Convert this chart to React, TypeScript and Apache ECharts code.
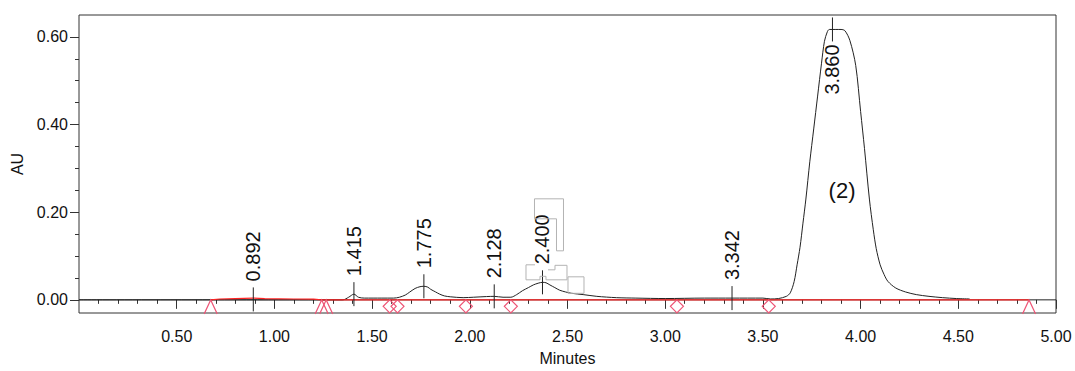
import React, { useEffect, useRef } from 'react';
import * as echarts from 'echarts';

// ---- data ----
const traceTimes = [
  0, 1.35, 1.38, 1.407, 1.43, 1.46, 1.55, 1.61, 1.64, 1.67, 1.69, 1.72, 1.745, 1.765, 1.785, 1.8, 1.825, 1.846, 1.87, 1.9,
  1.966, 2.02, 2.085, 2.125, 2.17, 2.21, 2.24, 2.27, 2.3, 2.325, 2.35, 2.372, 2.39, 2.41, 2.435, 2.46, 2.49, 2.52, 2.58,
  2.65, 2.75, 2.85, 3.0, 3.2, 3.342, 3.5, 3.54, 3.58, 3.62, 3.64, 3.66, 3.675, 3.69, 3.705, 3.72, 3.74, 3.76, 3.78, 3.8,
  3.815, 3.83, 3.84, 3.9, 3.92, 3.945, 3.975, 4.0, 4.02, 4.045, 4.065, 4.08, 4.1, 4.12, 4.14, 4.18, 4.23, 4.285, 4.35,
  4.42, 4.49, 4.558,
];
const traceAU = [
  0, 0, 0.006, 0.013, 0.006, 0.004, 0.004, 0.004, 0.006, 0.011, 0.017, 0.026, 0.03, 0.031, 0.029, 0.024, 0.018, 0.013, 0.009, 0.007,
  0.005, 0.006, 0.0075, 0.008, 0.006, 0.006, 0.012, 0.021, 0.028, 0.034, 0.038, 0.04, 0.039, 0.034, 0.028, 0.022, 0.018, 0.015, 0.012,
  0.008, 0.005, 0.004, 0.003, 0.004, 0.004, 0.004, 0.002, 0.003, 0.008, 0.016, 0.042, 0.08, 0.12, 0.175, 0.23, 0.315, 0.39, 0.465, 0.54,
  0.59, 0.612, 0.617, 0.617, 0.614, 0.592, 0.535, 0.43, 0.345, 0.23, 0.16, 0.117, 0.08, 0.058, 0.042, 0.027, 0.018, 0.012, 0.008,
  0.005, 0.003, 0.002,
];
const baselineTimes = [0.674, 0.72, 0.8, 0.89, 0.95, 1.1, 1.2, 1.242, 1.265, 4.862];
const baselineAU = [0, 0.002, 0.003, 0.004, 0.003, 0.002, 0.0015, 0, 0, 0];
const triangleTimes = [0.674, 1.242, 1.265, 4.862];
const diamondTimes = [1.59, 1.63, 1.98, 2.21, 3.06, 3.53];
const peakTimes = [0.892, 1.407, 1.765, 2.125, 2.372, 3.342, 3.856];
const peakAU = [0.001, 0.013, 0.031, 0.008, 0.04, 0.004, 0.617];
const peakLabels = ['0.892', '1.415', '1.775', '2.128', '2.400', '3.342', '3.860'];
const compoundName = '(2)';
const compoundPos = [3.905, 0.25];
const xTickValues = [0.5, 1.0, 1.5, 2.0, 2.5, 3.0, 3.5, 4.0, 4.5, 5.0];
const yTickValues = [0, 0.2, 0.4, 0.6];
const yMinorValues = [0.05, 0.1, 0.15, 0.25, 0.3, 0.35, 0.45, 0.5, 0.55];

const FONT = '"Liberation Sans", Arial, sans-serif';
const RED = '#ff2424';
const PINK = '#ee5576';
const GREY = '#b4b4b4';

const xMinorValues: number[] = [];
for (let i = 1; i < 50; i++) if (i % 5 !== 0) xMinorValues.push(i / 10);

export default function App() {
  const ref = useRef<HTMLDivElement>(null);
  useEffect(() => {
    if (!ref.current) return;
    const chart = echarts.init(ref.current, undefined, { renderer: 'svg' });
    const trace = traceTimes.map((t, i) => [t, traceAU[i]]);
    const baseline = baselineTimes.map((t, i) => [t, baselineAU[i]]);
    const peaks = peakTimes.map((t, i) => [t, peakAU[i], i]);

    const axisCommon = { type: 'value', min: 0, max: 5, position: 'bottom', offset: 3, axisLine: { show: false }, splitLine: { show: false } };
    const yCommon = { type: 'value', min: -0.03, max: 0.65, position: 'left', axisLine: { show: false }, splitLine: { show: false } };

    chart.setOption({
      animation: false,
      backgroundColor: '#fff',
      grid: { left: 79, right: 19, top: 15, bottom: 55, show: true, borderColor: '#333', borderWidth: 1, backgroundColor: 'transparent' },
      xAxis: [
        {
          ...axisCommon,
          name: 'Minutes', nameLocation: 'middle', nameGap: 34,
          nameTextStyle: { fontFamily: FONT, fontSize: 16, color: '#111' },
          axisTick: { show: true, length: 9, customValues: xTickValues, lineStyle: { color: '#333' } },
          axisLabel: { customValues: xTickValues, formatter: (v: number) => v.toFixed(2), fontFamily: FONT, fontSize: 16, color: '#111', margin: 12 },
        },
        {
          ...axisCommon,
          axisTick: { show: true, length: 4, customValues: xMinorValues, lineStyle: { color: '#333' } },
          axisLabel: { show: false },
        },
      ],
      yAxis: [
        {
          ...yCommon,
          name: 'AU', nameLocation: 'middle', nameGap: 53, nameRotate: 90,
          nameTextStyle: { fontFamily: FONT, fontSize: 16, color: '#111' },
          axisTick: { show: true, length: 9, customValues: yTickValues, lineStyle: { color: '#333' } },
          axisLabel: { customValues: yTickValues, formatter: (v: number) => v.toFixed(2), fontFamily: FONT, fontSize: 16, color: '#111', margin: 11 },
        },
        {
          ...yCommon,
          axisTick: { show: true, length: 4, customValues: yMinorValues, lineStyle: { color: '#333' } },
          axisLabel: { show: false },
        },
      ],
      series: [
        {
          type: 'line', data: [[0, 0], [5, 0]], showSymbol: false, silent: true,
          lineStyle: { color: '#222', width: 1 }, z: 1,
        },
        {
          type: 'line', data: trace, showSymbol: false, smooth: 0.3, silent: true,
          lineStyle: { color: '#222', width: 1 }, z: 2,
        },
        {
          type: 'line', data: baseline, showSymbol: false, silent: true,
          lineStyle: { color: RED, width: 1.2 }, z: 3,
        },
        {
          type: 'scatter', data: triangleTimes.map((t) => [t, 0]), symbol: 'path://M0 14 L6.5 0 L13 14',
          symbolSize: [13, 14], symbolOffset: [0, 7], silent: true,
          itemStyle: { color: 'rgba(0,0,0,0)', borderColor: PINK, borderWidth: 1.2, opacity: 1 }, z: 4,
        },
        {
          type: 'scatter', data: diamondTimes.map((t) => [t, 0]), symbol: 'path://M7 0 L14 7 L7 14 L0 7 Z',
          symbolSize: [13, 13], symbolOffset: [0, 6.5], silent: true,
          itemStyle: { color: 'rgba(0,0,0,0)', borderColor: PINK, borderWidth: 1.2, opacity: 1 }, z: 4,
        },
        {
          type: 'custom', data: peaks, silent: true, z: 5,
          renderItem: (params: any, api: any) => {
            const idx = api.value(2);
            const p = api.coord([api.value(0), api.value(1)]);
            const below = idx === peakLabels.length - 1;
            const children: any[] = [
              { type: 'line', shape: { x1: p[0], y1: p[1] - 12, x2: p[0], y2: p[1] + 12 }, style: { stroke: '#222', lineWidth: 1 } },
              {
                type: 'text', x: p[0], y: below ? p[1] + 15 : p[1] - 18, rotation: Math.PI / 2,
                style: { text: peakLabels[idx], fill: '#111', fontSize: 20, fontFamily: FONT, align: below ? 'right' : 'left', verticalAlign: 'middle' },
              },
            ];
            if (peakLabels[idx] === '2.400') {
              const off = (pts: number[][]) => pts.map((q) => [p[0] + q[0], p[1] + q[1]]);
              const st = { stroke: GREY, lineWidth: 1, fill: 'none' };
              children.push(
                { type: 'polygon', shape: { points: off([[-8, -83.5], [21, -83.5], [21, -31.5], [14, -31.5], [14, -63.5], [-8, -63.5]]) }, style: st },
                { type: 'polyline', shape: { points: off([[-7.5, -17.5], [-16.5, -17.5], [-16.5, -2.5], [-2.5, -2.5], [-2.5, -6], [3.5, -6], [3.5, -2.5], [24.5, -2.5], [24.5, -17], [12.5, -17], [12.5, -12.5], [5.5, -12.5]]) }, style: st },
                { type: 'rect', shape: { x: p[0] + 25.5, y: p[1] - 5.5, width: 16, height: 16.5 }, style: st },
              );
            }
            return { type: 'group', children };
          },
        },
        {
          type: 'scatter', data: [compoundPos], symbolSize: 0, silent: true, z: 5,
          itemStyle: { opacity: 1 },
          label: { show: true, position: 'inside', formatter: compoundName, fontFamily: FONT, fontSize: 22, color: '#111' },
        },
      ],
    });
    return () => chart.dispose();
  }, []);
  return <div ref={ref} style={{ position: 'fixed', left: 0, top: 0, width: 1075, height: 371, background: '#fff' }} />;
}
